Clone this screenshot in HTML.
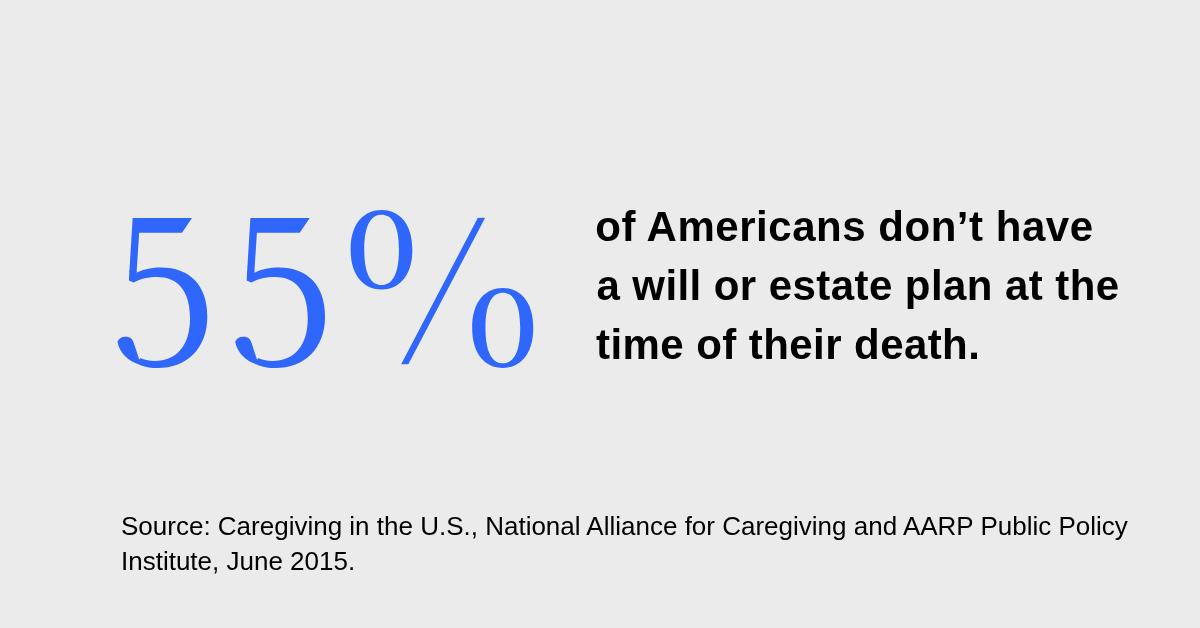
<!DOCTYPE html>
<html><head><meta charset="utf-8">
<style>
html,body{margin:0;padding:0;}
body{width:1200px;height:628px;background:#ebebeb;position:relative;overflow:hidden;font-family:"Liberation Sans",sans-serif;}
#num{position:absolute;left:0;top:0;font-family:"Noto Serif CJK SC","Liberation Serif",serif;font-weight:400;font-size:200px;line-height:200px;color:#2f66fb;white-space:nowrap;}
#num span{position:absolute;display:block;transform-origin:0 0;}
#n1,#n2{left:0;top:0;}
#n1 span,#n2 span{left:0;top:0;clip-path:polygon(-5px -5px,121.1px -5px,73.5px 61px,31.5px 61px,31.5px 97px,-5px 97px);}
#n1::before,#n1::after,#n2::before,#n2::after{content:"5";position:absolute;left:0;top:0;display:block;transform-origin:0 0;}
#n1::before,#n2::before{clip-path:polygon(19.5px 104.5px,29.5px 104.5px,29.5px 97px,140px 97px,140px 200px,31.5px 200px,31.5px 116px,19.5px 116px);}
#n1::after,#n2::after{clip-path:polygon(0px 146px,32.5px 146px,32.5px 200px,0px 200px);}
#n1 span{transform:matrix(0.9804,0,0,1.0444,108.76,170.8);}
#n1::before{transform:matrix(0.9804,0,0,1.15,109.26,150.9);}
#n1::after{transform:matrix(0.9804,0,0,0.88,109.26,200.2);}
#n2 span{transform:matrix(0.9804,0,0,1.0444,226.5,170.8);}
#n2::before{transform:matrix(0.9804,0,0,1.15,227,150.9);}
#n2::after{transform:matrix(0.9804,0,0,0.88,227,200.2);}
#n3{left:0;top:0;}
#n3::before,#n3::after{content:"%";position:absolute;left:0;top:0;display:block;transform-origin:0 0;}
#n3::before{transform:matrix(1.0458,0,0,0.8894,341.29,175.72);clip-path:polygon(4px 32px,73px 32px,73px 132px,4px 132px);}
#n3::after{transform:matrix(1.0356,0,0,0.895,351.45,199.44);clip-path:polygon(114px 92px,181px 92px,181px 192px,114px 192px);}
#n3s{left:0;top:0;transform:matrix(0.929,0,0.0948,1.04,345.78,171.4);clip-path:polygon(130.79px 44.52px,150.79px 44.52px,53.68px 185.48px,33.68px 185.48px);}
#txt{position:absolute;left:596px;top:197px;font-weight:bold;font-size:42px;line-height:59px;color:#000;white-space:nowrap;}
#txt span{display:block;}
#t1{letter-spacing:0.53px;margin-left:-0.8px;}
#t2{letter-spacing:0.43px;margin-left:0.4px;}
#t3{letter-spacing:0.43px;}
#src{position:absolute;left:121px;top:509px;font-size:26px;line-height:35px;color:#000;white-space:nowrap;}
</style></head><body>
<div id="num"><span id="n1"><span>5</span></span><span id="n2"><span>5</span></span><span id="n3"><span id="n3s">%</span></span></div>
<div id="txt"><span id="t1">of Americans don’t have</span><span id="t2">a will or estate plan at the</span><span id="t3">time of their death.</span></div>
<div id="src">Source: Caregiving in the U.S., National Alliance for Caregiving and AARP Public Policy<br>Institute, June 2015.</div>
</body></html>
